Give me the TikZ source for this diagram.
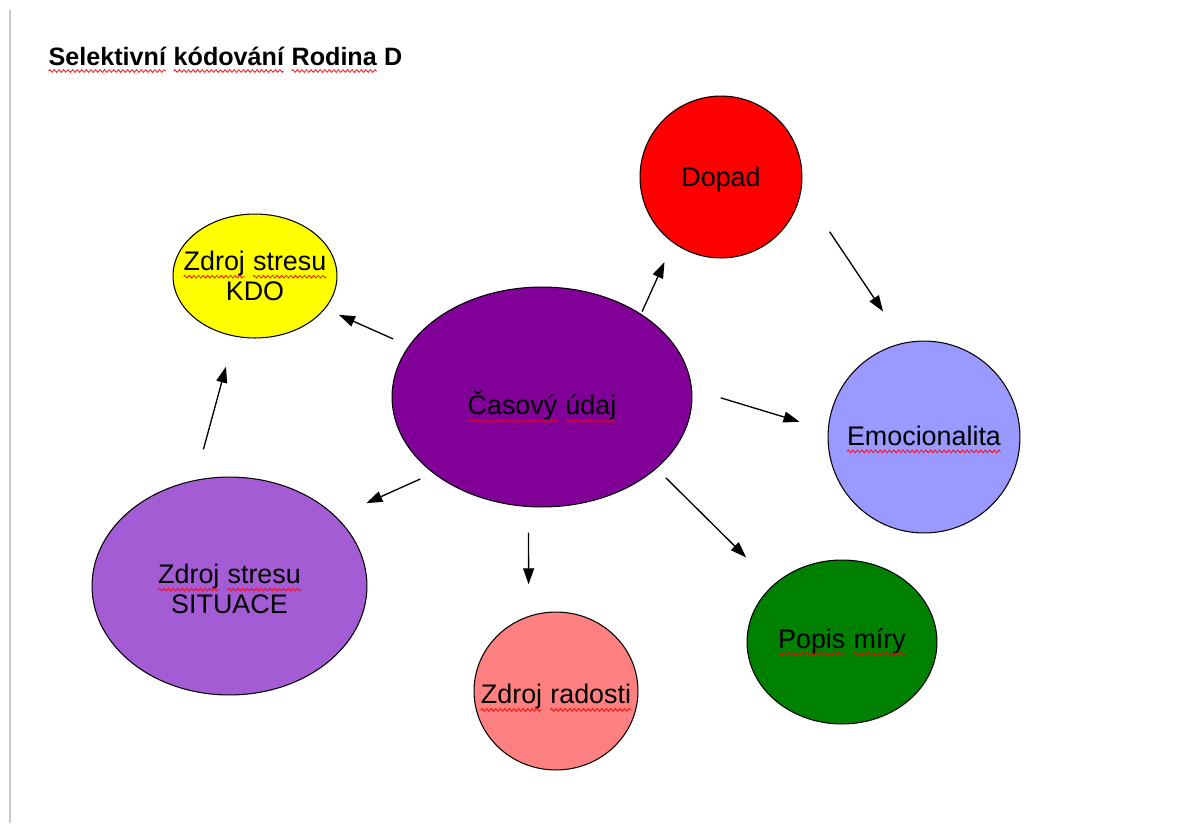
\documentclass[tikz,border=0pt]{standalone}
\usepackage{fontspec}
\setmainfont{Liberation Sans}
\usetikzlibrary{shapes.geometric,arrows.meta,decorations.pathmorphing}

% word with a red wavy underline (spell-check mark)
\newcommand\spl[1]{\tikz[baseline=(w.base)]{%
  \node[shape=rectangle, draw=none, fill=none, inner sep=0pt, outer sep=0pt,
        minimum width=0pt, minimum height=0pt, anchor=base] (w) at (0,0) {#1};%
  \draw[red, line width=0.4pt, decorate,
        decoration={zigzag, amplitude=0.8pt, segment length=2.6pt}]
    ([yshift=-3.4pt]w.base west) -- ([yshift=-3.4pt]w.base east);}}

\definecolor{cRed}{RGB}{255,0,0}
\definecolor{cYellow}{RGB}{255,255,0}
\definecolor{cPurple}{RGB}{128,0,152}
\definecolor{cLavender}{RGB}{153,153,255}
\definecolor{cOrchid}{RGB}{164,92,212}
\definecolor{cSalmon}{RGB}{255,128,128}
\definecolor{cGreen}{RGB}{0,128,0}

\tikzset{
  bubble/.style={ellipse, draw=black, line width=0.6pt, inner sep=0pt},
  radii/.style 2 args={minimum width={#1*0.04cm}, minimum height={#2*0.04cm}},
  lbl/.style={align=center, inner sep=0pt, font=\fontsize{15.3}{17}\selectfont},
  conn/.style={-{Triangle[length=0.32cm,width=0.22cm]}, line width=0.75pt},
}

\begin{document}
\begin{tikzpicture}[x=0.02cm, y=-0.02cm]
  \useasboundingbox[fill=white] (0,0) rectangle (1188,823);

  % page margin rule
  \draw[line width=0.04cm, color=black!22] (10,10) -- (10,823);

  % title
  \node[anchor=base west, inner sep=0pt, font=\bfseries\fontsize{14.3}{17}\selectfont] (title) at (48,65)
    {\spl{Selektivní} \spl{kódování} \spl{Rodina} D};

  % bubbles
  \node[bubble, radii={150}{110}, fill=cPurple,
        label={[lbl, yshift=-0.2cm]center:\spl{Časový} \spl{údaj}}] (cas) at (542,397) {};
  \node[bubble, radii={82}{62}, fill=cYellow,
        label={[lbl]center:{\spl{Zdroj} \spl{stresu}\\KDO}}] (kdo) at (255,276) {};
  \node[bubble, radii={81}{81}, fill=cRed,
        label={[lbl, yshift=-0.05cm]center:Dopad}] (dopad) at (721,177) {};
  \node[bubble, radii={96}{96}, fill=cLavender,
        label={[lbl, yshift=-0.05cm]center:\spl{Emocionalita}}] (emo) at (924,437) {};
  \node[bubble, radii={137.5}{109}, fill=cOrchid,
        label={[lbl, yshift=-0.06cm]center:{\spl{Zdroj} \spl{stresu}\\SITUACE}}] (sit) at (229.5,586) {};
  \node[bubble, radii={82}{79}, fill=cSalmon,
        label={[lbl, yshift=-0.14cm]center:\spl{Zdroj} \spl{radosti}}] (rad) at (556,691) {};
  \node[bubble, radii={95}{82}, fill=cGreen,
        label={[lbl]center:\spl{Popis} \spl{míry}}] (pop) at (842,642) {};

  % connectors
  \draw[conn, shorten <=0.34cm, shorten >=0.30cm] (cas.159.5) -- (kdo.-25.3);
  \draw[conn, shorten <=0.05cm, shorten >=0.42cm] (cas.40.8) -- (dopad.-126.3);
  \draw[conn, shorten <=1.01cm, shorten >=0.75cm] (dopad.-9.9) -- (emo.102.6);
  \draw[conn, shorten <=0.60cm, shorten >=0.59cm] (cas.3.4) -- (emo.176.3);
  \draw[conn, shorten <=0.26cm, shorten >=0.77cm] (cas.-32.3) -- (pop.140.3);
  \draw[conn, shorten <=0.51cm, shorten >=0.635cm] (cas.-97.3) -- (rad.110.7);
  \draw[conn, shorten <=0.28cm, shorten >=0.66cm] (cas.-145.5) -- (sit.33.0);
  \draw[conn, shorten <=0.636cm, shorten >=0.626cm] (sit.108.8) -- (kdo.-109.9);
\end{tikzpicture}
\end{document}
